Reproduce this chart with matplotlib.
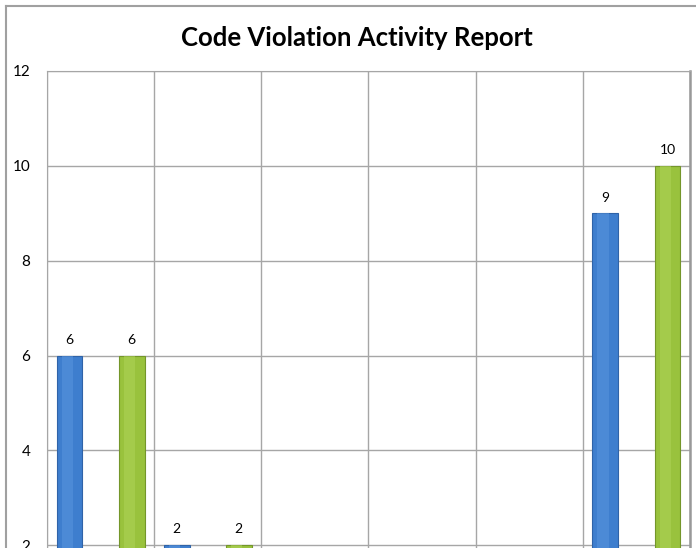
import matplotlib.pyplot as plt
from matplotlib.lines import Line2D
import numpy as np

# Dane wykresu
categories = ["1", "2", "3", "4", "5", "6"]
series_a = [6, 2, 0, 0, 0, 9]
series_b = [6, 2, 0, 0, 0, 10]
y_ticks = [0, 2, 4, 6, 8, 10, 12]

plt.rcParams["font.family"] = ["Lato", "DejaVu Sans"]

fig = plt.figure(figsize=(6.96, 5.48), dpi=100)

# Ramka całego wykresu (lewa i górna krawędź, reszta poza kadrem)
fx = 6 / 696
fy = 1 - 6 / 548
fig.lines.append(Line2D([fx, fx], [-0.1, fy], transform=fig.transFigure,
                        color="#A0A0A0", linewidth=1.5))
fig.lines.append(Line2D([fx, 1.1], [fy, fy], transform=fig.transFigure,
                        color="#A0A0A0", linewidth=1.5))

ax = fig.add_axes([47 / 696, (548 - 640) / 548, 643 / 696, 569 / 548])

x = np.arange(len(categories))
offset = 0.29
width = 0.24

bars_a = ax.bar(x - offset, series_a, width, color="#3E7ECE",
                edgecolor="#2F63A8", linewidth=0.8, zorder=3)
bars_b = ax.bar(x + offset, series_b, width, color="#99C23D",
                edgecolor="#74962A", linewidth=0.8, zorder=3)

# Jaśniejsze pasy dla efektu wypukłości
ax.bar(x - offset - 0.02, series_a, width * 0.45, color="#5B97DE",
       linewidth=0, zorder=3.5, alpha=0.5)
ax.bar(x + offset - 0.02, series_b, width * 0.45, color="#B0D55A",
       linewidth=0, zorder=3.5, alpha=0.5)

for rect, v in zip(list(bars_a) + list(bars_b), series_a + series_b):
    if v > 0:
        ax.annotate(str(v), (rect.get_x() + rect.get_width() / 2, v),
                    xytext=(0, 7), textcoords="offset points",
                    ha="center", va="bottom", fontsize=10)

ax.set_xlim(-0.5, len(categories) - 0.5)
ax.set_ylim(0, 12)
ax.set_yticks(y_ticks)
ax.set_xticks(x)
ax.set_xticklabels([])
ax.set_xticks(np.arange(-0.5, len(categories)), minor=True)

ax.grid(True, axis="y", color="#A6A6A6", linewidth=1, zorder=0)
ax.grid(True, axis="x", which="minor", color="#A6A6A6", linewidth=1, zorder=0)
ax.grid(False, axis="x", which="major")

for side in ["top", "left", "bottom"]:
    ax.spines[side].set_color("#A6A6A6")
ax.spines["right"].set_color("#999999")
ax.spines["right"].set_linewidth(1.8)

ax.tick_params(axis="y", length=0, pad=12, labelsize=11)
ax.tick_params(axis="x", which="both", length=0)

fig.text(0.513, 0.931, "Code Violation Activity Report", ha="center",
         va="center", fontsize=18.5, fontweight="bold")

plt.savefig("out.png", dpi=100)
